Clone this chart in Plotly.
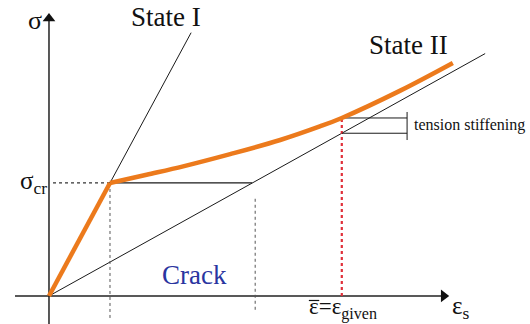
import plotly.graph_objects as go

# Strain in units of the cracking strain, stress in units of the cracking stress
eps_cr = 1.0
sig_cr = 1.0
eps_crack_end = 3.33          # where the State II line reaches sigma_cr
eps_given = 4.80

# State I (uncracked) and State II (fully cracked) stiffness
state1_eps = [0.0, 2.33]
state1_sig = [0.0, 2.33]
state2_eps = [0.0, 7.15]
state2_sig = [0.0, 0.30 * 7.15]

# Member response: elastic up to cracking, then tension stiffening branch
elastic_eps = [0.0, 1.0]
elastic_sig = [0.0, 1.0]
cracked_eps = [1.0, 1.6, 2.2, 2.97, 3.79, 4.44, 4.80, 5.75, 6.62]
cracked_sig = [1.0, 1.073, 1.147, 1.255, 1.38, 1.50, 1.575, 1.815, 2.062]

sig_state2_given = 0.30 * eps_given
sig_member_given = 1.575
bracket_eps = 5.87

X_RANGE = [-0.803, 7.885]
Y_RANGE = [-0.248, 2.619]

BLACK = "#1a1a1a"
ORANGE = "#ec7a1c"
RED = "#e0303a"
BLUE = "#2a35a0"
SERIF = "Liberation Serif, Times New Roman, serif"

fig = go.Figure()


def line(xs, ys, color=BLACK, width=1, dash="solid", shape="linear"):
    fig.add_trace(go.Scatter(x=xs, y=ys, mode="lines",
                             line=dict(color=color, width=width, dash=dash, shape=shape),
                             hoverinfo="skip"))


# Coordinate axes with arrow heads
line([-0.557, 6.50], [0, 0], color="#222", width=1.5)
line([0, 0], [-0.26, 2.47], color="#222", width=1.5)
fig.add_trace(go.Scatter(x=[6.47], y=[0], mode="markers",
                         marker=dict(symbol="triangle-right", size=11, color="#111"),
                         hoverinfo="skip"))
fig.add_trace(go.Scatter(x=[0], y=[2.455], mode="markers",
                         marker=dict(symbol="triangle-up", size=11, color="#111"),
                         hoverinfo="skip"))

# Reference stiffness lines
line(state1_eps, state1_sig, width=1)
line(state2_eps, state2_sig, width=1)

# Crack formation phase
line([0.066, eps_cr], [sig_cr, sig_cr], color="#333", width=1.2, dash="dot")
line([eps_cr, eps_crack_end], [sig_cr, sig_cr], width=1.2)
line([eps_cr, eps_cr], [sig_cr, -0.195], color="#555", width=1, dash="dot")
line([3.38, 3.38], [0.86, -0.14], color="#555", width=1, dash="dot")

# Given mean strain
line([eps_given, eps_given], [0, sig_member_given], color=RED, width=2.2, dash="dot")

# Tension stiffening bracket
line([eps_given, bracket_eps], [sig_member_given, sig_member_given], width=1)
line([eps_given, bracket_eps], [sig_state2_given, sig_state2_given], width=1)
line([bracket_eps, bracket_eps], [1.628, 1.38], width=1)

# Member response curve
line(elastic_eps, elastic_sig, color=ORANGE, width=4.5)
line(cracked_eps, cracked_sig, color=ORANGE, width=4.5, shape="spline")

# Bar over the mean strain symbol
line([4.26, 4.43], [-0.04, -0.04], color="#111", width=1.2)


def label(x, y, text, size, color="#111", xanchor="center"):
    fig.add_annotation(x=x, y=y, text=text, showarrow=False,
                       xanchor=xanchor, yanchor="middle",
                       font=dict(family=SERIF, size=size, color=color))


label(-0.23, 2.44, "σ", 26)
label(1.92, 2.47, "State I", 27)
label(5.89, 2.22, "State II", 27)
label(-0.26, 1.0, "σ<sub>cr</sub>", 25)
label(2.38, 0.19, "Crack", 27, color=BLUE)
label(5.95, 1.51, "tension stiffening", 16, xanchor="left")
label(4.82, -0.11, "ε=ε<sub>given</sub>", 23)
label(6.75, -0.10, "ε<sub>s</sub>", 25)

fig.update_layout(
    width=530, height=324,
    margin=dict(l=0, r=0, t=0, b=0),
    paper_bgcolor="white", plot_bgcolor="white",
    showlegend=False, hovermode=False,
    xaxis=dict(range=X_RANGE, visible=False, fixedrange=True),
    yaxis=dict(range=Y_RANGE, visible=False, fixedrange=True),
)

fig.write_html("out.html")
